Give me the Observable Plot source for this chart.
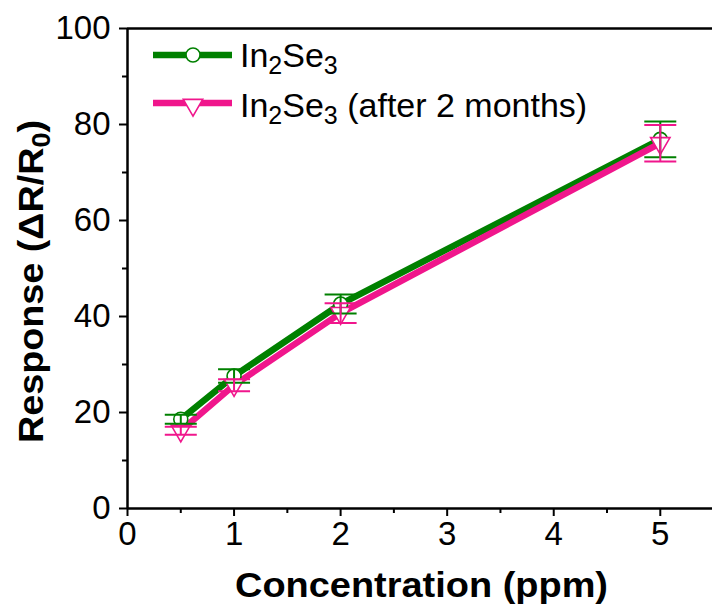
<!DOCTYPE html>
<html>
<head>
<meta charset="utf-8">
<script src="https://cdn.jsdelivr.net/npm/d3@7"></script>
<script src="https://cdn.jsdelivr.net/npm/@observablehq/plot@0.6"></script>
<style>
  html, body { margin: 0; padding: 0; background: #fff; }
  #chart svg { display: block; }
</style>
</head>
<body>
<div id="chart"></div>
<script>
// ---- data ----
const concentration = [0.5, 1, 2, 5];
const freshResponse = [18.6, 27.6, 42.6, 76.9];
const freshError    = [0.95, 1.4, 2.0, 3.7];
const agedResponse  = [16.2, 25.7, 40.7, 76.1];
const agedError     = [0.85, 1.25, 2.05, 3.8];
const seriesNames   = ["In2Se3", "In2Se3 (after 2 months)"];
const seriesColors  = ["#008000", "#f0168c"];
const xTicks = [0, 1, 2, 3, 4, 5];
const xMinorTicks = [0.5, 1.5, 2.5, 3.5, 4.5];
const yTicks = [0, 20, 40, 60, 80, 100];
const yMinorTicks = [10, 30, 50, 70, 90];

const fresh = concentration.map((x, i) => ({x, y: freshResponse[i], e: freshError[i], s: seriesNames[0]}));
const aged = concentration.map((x, i) => ({x, y: agedResponse[i], e: agedError[i], s: seriesNames[1]}));

// horizontal cap symbol for error bars
const capSymbol = {
  draw(context, size) {
    const w = Math.sqrt(size / Math.PI);
    context.moveTo(-w, 0);
    context.lineTo(w, 0);
  }
};

function errorMarks(data, color) {
  return [
    Plot.ruleX(data, {x: "x", y1: d => d.y - d.e, y2: d => d.y + d.e, stroke: color, strokeWidth: 2}),
    Plot.dot(data, {x: "x", y: d => d.y + d.e, symbol: capSymbol, r: 16, stroke: color, strokeWidth: 2, fill: "none"}),
    Plot.dot(data, {x: "x", y: d => d.y - d.e, symbol: capSymbol, r: 16, stroke: color, strokeWidth: 2, fill: "none"})
  ];
}

const plot = Plot.plot({
  width: 712,
  height: 610,
  marginLeft: 127,
  marginRight: 0,
  marginTop: 28,
  marginBottom: 102,
  style: {fontFamily: "'Liberation Sans', Arial, sans-serif", background: "#fff", color: "#000"},
  x: {domain: [0, 5.49]},
  y: {domain: [0, 100]},
  marks: [
    Plot.axisX({ticks: xTicks, tickSize: 8, tickPadding: 5, fontSize: 33, strokeWidth: 2, label: null, tickFormat: d => String(d)}),
    Plot.axisX({ticks: xMinorTicks, tickSize: 5, strokeWidth: 2, text: null, label: null}),
    Plot.axisY({ticks: yTicks, tickSize: 8, tickPadding: 9, fontSize: 33, strokeWidth: 2, label: null, tickFormat: d => String(d)}),
    Plot.axisY({ticks: yMinorTicks, tickSize: 5, strokeWidth: 2, text: null, label: null}),
    Plot.ruleX([0], {stroke: "#000", strokeWidth: 2.5}),
    Plot.ruleY([0], {stroke: "#000", strokeWidth: 2.5}),
    Plot.ruleY([100], {stroke: "#000", strokeWidth: 2.5}),
    Plot.line(fresh, {x: "x", y: "y", stroke: seriesColors[0], strokeWidth: 6.5}),
    Plot.line(aged, {x: "x", y: "y", stroke: seriesColors[1], strokeWidth: 6.5}),
    Plot.dot(fresh, {x: "x", y: "y", r: 7, symbol: "circle", stroke: seriesColors[0], strokeWidth: 1.6, fill: "#fff"}),
    Plot.dot(aged, {x: "x", y: "y", r: 7.2, symbol: "triangle", rotate: 180, stroke: seriesColors[1], strokeWidth: 1.6, fill: "#fff"}),
    ...errorMarks(fresh, seriesColors[0]),
    ...errorMarks(aged, seriesColors[1])
  ]
});

document.getElementById("chart").appendChild(plot);

// ---- titles and legend (text with subscripts) ----
const svg = d3.select(plot);
const font = "'Liberation Sans', Arial, sans-serif";

function addSub(textSel, parts, subSize, subShift) {
  let shifted = 0;
  parts.forEach(([t, sub]) => {
    const ts = textSel.append("tspan").text(t);
    if (sub) {
      ts.attr("font-size", subSize).attr("dy", subShift - shifted);
      shifted = subShift;
    } else if (shifted !== 0) {
      ts.attr("dy", -shifted);
      shifted = 0;
    }
  });
}

// X title
svg.append("text")
  .attr("x", 421.5).attr("y", 597)
  .attr("text-anchor", "middle")
  .attr("font-family", font).attr("font-size", 35).attr("font-weight", "bold")
  .attr("fill", "#000")
  .attr("textLength", 373).attr("lengthAdjust", "spacingAndGlyphs")
  .text("Concentration (ppm)");

// Y title
const yt = svg.append("text")
  .attr("transform", "translate(43,281.5) rotate(-90)")
  .attr("text-anchor", "middle")
  .attr("font-family", font).attr("font-size", 35).attr("font-weight", "bold")
  .attr("fill", "#000")
  .attr("textLength", 323).attr("lengthAdjust", "spacingAndGlyphs");
addSub(yt, [["Response (\u0394R/R", false], ["0", true], [")", false]], 25, 7);

// Legend
const legendRows = [
  {name: [["In", false], ["2", true], ["Se", false], ["3", true]], color: seriesColors[0], symbol: d3.symbolCircle, size: Math.PI * 49, rotate: 0, lineY: 55, baseY: 67},
  {name: [["In", false], ["2", true], ["Se", false], ["3", true], [" (after 2 months)", false]], color: seriesColors[1], symbol: d3.symbolTriangle, size: Math.PI * 7.2 * 7.2, rotate: 180, lineY: 103, baseY: 117}
];
legendRows.forEach(r => {
  svg.append("line")
    .attr("x1", 153).attr("x2", 232).attr("y1", r.lineY).attr("y2", r.lineY)
    .attr("stroke", r.color).attr("stroke-width", 6.5);
  svg.append("path")
    .attr("d", d3.symbol(r.symbol, r.size)())
    .attr("transform", `translate(193,${r.lineY + (r.rotate ? 2 : 0)}) rotate(${r.rotate})`)
    .attr("fill", "#fff").attr("stroke", r.color).attr("stroke-width", 1.6);
  const t = svg.append("text")
    .attr("x", 240).attr("y", r.baseY)
    .attr("text-anchor", "start")
    .attr("font-family", font).attr("font-size", 34).attr("fill", "#000");
  addSub(t, r.name, 25, 7);
});
</script>
</body>
</html>
